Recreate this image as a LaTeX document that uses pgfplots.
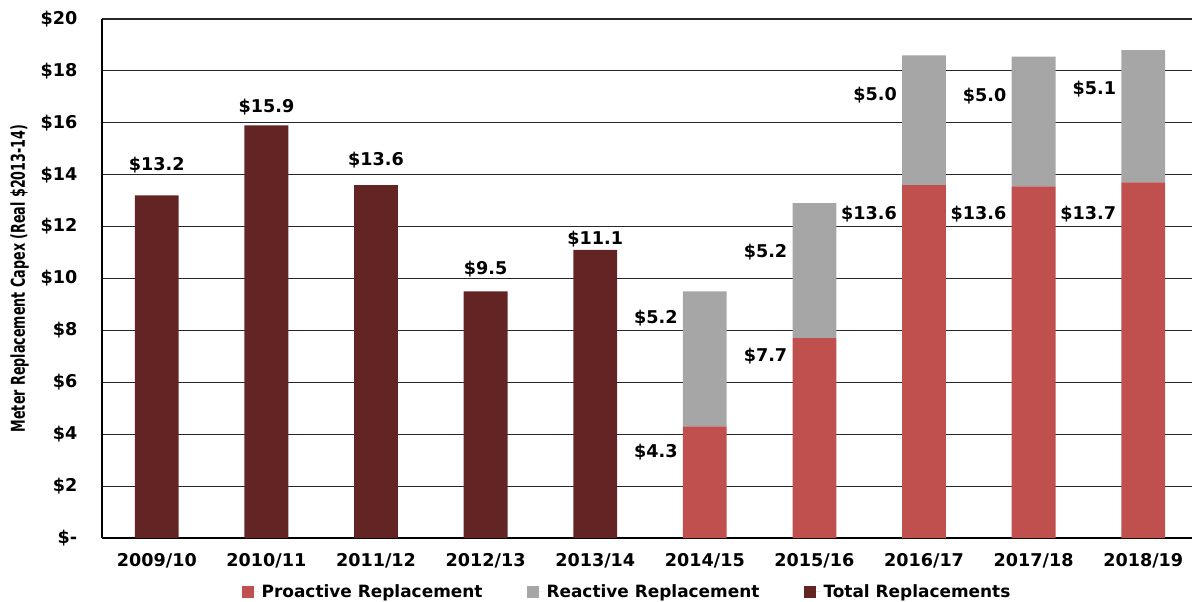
\documentclass[border=0pt]{standalone}
\usepackage{pgfplots}
\pgfplotsset{compat=1.18}
\usepackage{fontspec}
\setmainfont{DejaVu Sans}
\newfontfamily\condfont{DejaVu Sans Condensed}
\definecolor{totc}{HTML}{632523}
\definecolor{proc}{HTML}{C0504D}
\definecolor{reac}{HTML}{A6A6A6}
\pgfplotsset{sqleg/.style={legend image code/.code={\path[##1,fill,draw=none] (0pt,-4.5pt) rectangle (9pt,4.5pt);\path (0pt,0pt) -- (13pt,0pt);}}}
\tikzset{lbl/.style={font=\bfseries\fontsize{13.2}{15}\selectfont}}
\begin{document}
\begin{tikzpicture}
\begin{axis}[
  at={(0,0)}, anchor=south west,
  scale only axis, width=817.5pt, height=389.25pt,
  ybar stacked, bar width=0.4,
  xmin=-0.5, xmax=9.445, ymin=0, ymax=20,
  clip=false,
  axis x line*=bottom, axis y line*=left,
  axis line style={line width=2.2pt,-},
  ymajorgrids, grid style={black!85, line width=0.8pt},
  major tick length=0pt,
  ytick={0,2,4,6,8,10,12,14,16,18,20},
  yticklabels={\$-\hspace{4.5pt},\$2,\$4,\$6,\$8,\$10,\$12,\$14,\$16,\$18,\$20},
  xtick={0,1,2,3,4,5,6,7,8,9},
  xticklabels={2009/10,2010/11,2011/12,2012/13,2013/14,2014/15,2015/16,2016/17,2017/18,2018/19},
  tick label style={font=\bfseries\fontsize{13.2}{15}\selectfont},
  yticklabel style={xshift=-15pt},
  xticklabel style={yshift=-8pt},
  ylabel={\scalebox{1}[1.35]{\condfont\bfseries\fontsize{10.6}{12}\selectfont Meter Replacement Capex (Real \$2013-14)}},
  every axis y label/.style={at={(axis description cs:-0.0755,0.5)},rotate=90,anchor=center},
  legend columns=3,
  legend style={at={(0.482,-0.104)}, anchor=center, draw=none, fill=none,
    font=\bfseries\fontsize{12.7}{15}\selectfont,
    /tikz/every even column/.append style={column sep=31pt}},
]
\addplot[fill=proc, draw=none, sqleg] coordinates {(0,0)(1,0)(2,0)(3,0)(4,0)(5,4.3)(6,7.7)(7,13.6)(8,13.55)(9,13.7)};
\addplot[fill=reac, draw=none, sqleg] coordinates {(0,0)(1,0)(2,0)(3,0)(4,0)(5,5.2)(6,5.2)(7,5.0)(8,5.0)(9,5.1)};
\addplot[fill=totc, draw=none, sqleg] coordinates {(0,13.2)(1,15.9)(2,13.6)(3,9.5)(4,11.1)(5,0)(6,0)(7,0)(8,0)(9,0)};
\legend{Proactive Replacement,Reactive Replacement,Total Replacements}
% total labels
\node[lbl,anchor=center] at (axis cs:0,14.38) {\$13.2};
\node[lbl,anchor=center] at (axis cs:1,16.61) {\$15.9};
\node[lbl,anchor=center] at (axis cs:2,14.57) {\$13.6};
\node[lbl,anchor=center] at (axis cs:3,10.37) {\$9.5};
\node[lbl,anchor=center] at (axis cs:4,11.52) {\$11.1};
% stacked labels
\node[lbl,anchor=east,inner sep=0pt] at (axis cs:4.754,8.48) {\$5.2};
\node[lbl,anchor=east,inner sep=0pt] at (axis cs:4.754,3.31) {\$4.3};
\node[lbl,anchor=east,inner sep=0pt] at (axis cs:5.754,11.02) {\$5.2};
\node[lbl,anchor=east,inner sep=0pt] at (axis cs:5.754,7.01) {\$7.7};
\node[lbl,anchor=east,inner sep=0pt] at (axis cs:6.754,17.07) {\$5.0};
\node[lbl,anchor=east,inner sep=0pt] at (axis cs:6.754,12.49) {\$13.6};
\node[lbl,anchor=east,inner sep=0pt] at (axis cs:7.754,17.03) {\$5.0};
\node[lbl,anchor=east,inner sep=0pt] at (axis cs:7.754,12.49) {\$13.6};
\node[lbl,anchor=east,inner sep=0pt] at (axis cs:8.754,17.30) {\$5.1};
\node[lbl,anchor=east,inner sep=0pt] at (axis cs:8.754,12.49) {\$13.7};
\end{axis}
\pgfresetboundingbox
\path[use as bounding box] (-76.5pt,-47.25pt) rectangle (817.5pt,403.5pt);
\end{tikzpicture}
\end{document}
